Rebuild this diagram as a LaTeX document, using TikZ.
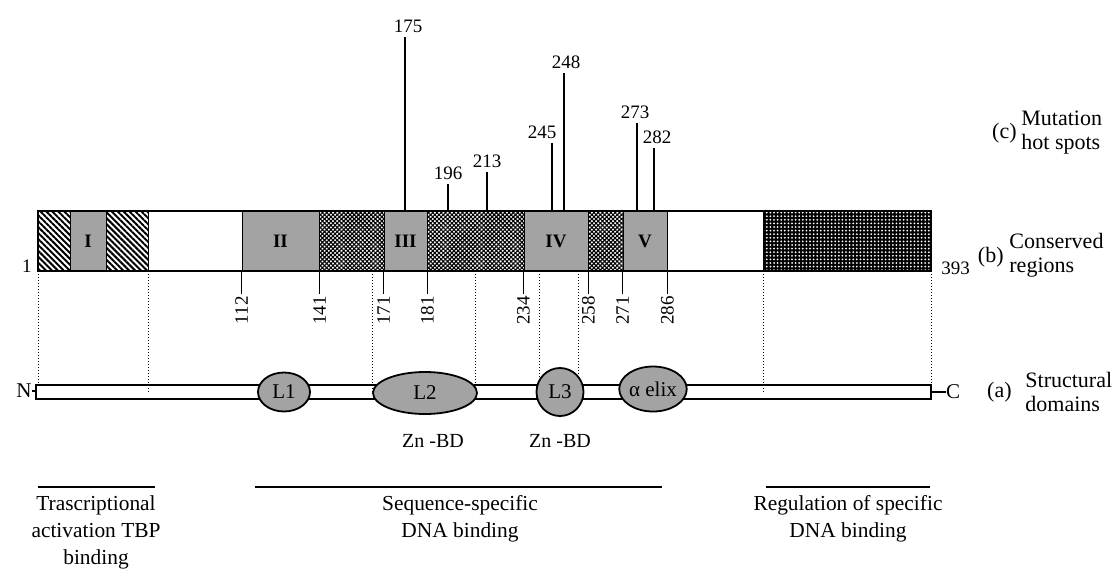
\documentclass[tikz,border=0pt]{standalone}
\usepackage{fontspec}
\setmainfont{Liberation Serif}
\usetikzlibrary{shapes.geometric,patterns.meta}

\tikzset{
  hatchbox/.style={pattern={Lines[angle=-45,distance=2.1pt,line width=1pt]}},
  meshbox/.style={pattern={Hatch[angle=45,distance=1.5pt,line width=0.55pt]}},
  dotbox/.style={fill=black, postaction={pattern={Dots[distance=1.8pt,radius=0.5pt]}, pattern color=white}},
  greybox/.style={fill=black!36, draw=black, line width=0.5pt, inner sep=0pt,
    minimum height=30pt, font=\fontsize{9.5}{11}\selectfont\bfseries},
  num/.style={font=\fontsize{9.5}{11}\selectfont, inner sep=2pt},
  spike/.style={line width=1.3pt},
  tick/.style={line width=0.8pt},
  guide/.style={densely dotted, line width=0.5pt},
  loopnode/.style={ellipse, fill=black!36, draw=black, line width=0.9pt, inner sep=0pt,
    font=\fontsize{10.5}{12}\selectfont},
  sidetext/.style={font=\fontsize{11}{12}\selectfont, align=left, inner sep=0pt},
  domtext/.style={font=\fontsize{10.7}{13.5}\selectfont, align=center, inner sep=0pt},
  domline/.style={line width=1.4pt}
}

\begin{document}
\begin{tikzpicture}[x=0.5pt,y=-0.5pt]
\useasboundingbox (0,0) rectangle (1115,569);

% (b) conserved regions
\fill[hatchbox] (38,211) rectangle (70,271);
\fill[hatchbox] (106,211) rectangle (148,271);
\fill[meshbox] (319,211) rectangle (384,271);
\fill[meshbox] (427,211) rectangle (524,271);
\fill[meshbox] (588,211) rectangle (623,271);
\fill[dotbox] (763,211) rectangle (931,271);
\draw[line width=0.5pt] (148,211) -- (148,271);
\draw[line width=0.5pt] (763,211) -- (763,271);

\node[greybox, minimum width=18pt] (r1) at (88,241) {I};
\node[greybox, minimum width=38.5pt] (r2) at (280.5,241) {II};
\node[greybox, minimum width=21.5pt] (r3) at (405.5,241) {III};
\node[greybox, minimum width=32pt] (r4) at (556,241) {IV};
\node[greybox, minimum width=22pt] (r5) at (645,241) {V};

\draw[line width=1.2pt] (38,211) rectangle (931,271);

\node[num, anchor=east] (first) at (36,266) {1};
\node[num, anchor=west] (last) at (937,268) {393};

% residue limits
\draw[tick] (r2.south west) -- ++(0,22) node[num, rotate=90, anchor=east, inner sep=1pt] (n112) {112};
\draw[tick] (r2.south east) -- ++(0,22) node[num, rotate=90, anchor=east, inner sep=1pt] (n141) {141};
\draw[tick] (r3.south west) -- ++(0,22) node[num, rotate=90, anchor=east, inner sep=1pt] (n171) {171};
\draw[tick] (r3.south east) -- ++(0,22) node[num, rotate=90, anchor=east, inner sep=1pt] (n181) {181};
\draw[tick] (r4.south west) -- ++(0,22) node[num, rotate=90, anchor=east, inner sep=1pt] (n234) {234};
\draw[tick] (r4.south east) -- ++(0,22) node[num, rotate=90, anchor=east, inner sep=1pt] (n258) {258};
\draw[tick] (r5.south west) -- ++(0,22) node[num, rotate=90, anchor=east, inner sep=1pt] (n271) {271};
\draw[tick] (r5.south east) -- ++(0,22) node[num, rotate=90, anchor=east, inner sep=1pt] (n286) {286};

% (c) mutation hot spots
\coordinate (b175) at (405,211);
\coordinate (b196) at (448,211);
\coordinate (b213) at (487,211);
\coordinate (b245) at (552,211);
\coordinate (b248) at (564,211);
\coordinate (b273) at (637,211);
\coordinate (b282) at (654,211);
\node[num, anchor=south] (m175) at (408,37) {175};
\node[num, anchor=south] (m196) at (448,184) {196};
\node[num, anchor=south] (m213) at (487,172) {213};
\node[num, anchor=south] (m245) at (542,143) {245};
\node[num, anchor=south] (m248) at (566,73) {248};
\node[num, anchor=south] (m273) at (635,123) {273};
\node[num, anchor=south] (m282) at (657,148) {282};
\draw[spike] (b175) -- (b175 |- m175.south);
\draw[spike] (b196) -- (b196 |- m196.south);
\draw[spike] (b213) -- (b213 |- m213.south);
\draw[spike] (b245) -- (b245 |- m245.south);
\draw[spike] (b248) -- (b248 |- m248.south);
\draw[spike] (b273) -- (b273 |- m273.south);
\draw[spike] (b282) -- (b282 |- m282.south);

% (a) structural domains
\draw[line width=1pt, fill=white] (36,385) rectangle (931,399);
\node[font=\fontsize{10.5}{12}\selectfont, inner sep=0pt] (nterm) at (24,391) {N};
\node[font=\fontsize{10.5}{12}\selectfont, inner sep=0pt] (cterm) at (953,392) {C};
\draw[line width=0.8pt] (nterm.east) -- (36,391);
\draw[line width=0.8pt] (931,392) -- (cterm.west);

\draw[guide] (38,271) -- (38,385);
\draw[guide] (148,271) -- (148,392);
\draw[guide] (372,271) -- (372,392);
\draw[guide] (475,271) -- (475,392);
\draw[guide] (539,271) -- (539,392);
\draw[guide] (578,271) -- (578,392);
\draw[guide] (763,271) -- (763,392);
\draw[guide] (931,271) -- (931,385);

\node[loopnode, minimum width=26pt, minimum height=19.5pt] (l1) at (284,392) {L1};
\node[loopnode, minimum width=52pt, minimum height=21pt] (l2) at (425,393) {L2};
\node[loopnode, minimum width=23.5pt, minimum height=24pt] (l3) at (560,392) {L3};
\node[loopnode, minimum width=33.5pt, minimum height=22.5pt] (hx) at (653,389) {α elix};

\node[font=\fontsize{10}{12}\selectfont] (zn1) at (433,441) {Zn -BD};
\node[font=\fontsize{10}{12}\selectfont] (zn2) at (560,441) {Zn -BD};

% side labels
\node[sidetext, anchor=east] (lc) at (1017,133) {(c)};
\node[sidetext, anchor=west] (tc) at (1021,133) {Mutation\\hot spots};
\node[sidetext, anchor=east] (lb) at (1004,257) {(b)};
\node[sidetext, anchor=west] (tb) at (1009,255) {Conserved\\regions};
\node[sidetext, anchor=east] (la) at (1012,392) {(a)};
\node[sidetext, anchor=west] (ta) at (1025,392) {Structural\\domains};

% functional domains
\coordinate (d1a) at (38,487);
\coordinate (d1b) at (155,487);
\coordinate (d2a) at (255,487);
\coordinate (d2b) at (662,487);
\coordinate (d3a) at (766,487);
\coordinate (d3b) at (930,487);
\draw[domline] (d1a) -- (d1b);
\draw[domline] (d2a) -- (d2b);
\draw[domline] (d3a) -- (d3b);
\node[domtext, anchor=north] (f1) at (96,495) {Trascriptional\\activation TBP\\binding};
\node[domtext, anchor=north] (f2) at (460,495) {Sequence-specific\\DNA binding};
\node[domtext, anchor=north] (f3) at (848,495) {Regulation of specific\\DNA binding};

\end{tikzpicture}
\end{document}
